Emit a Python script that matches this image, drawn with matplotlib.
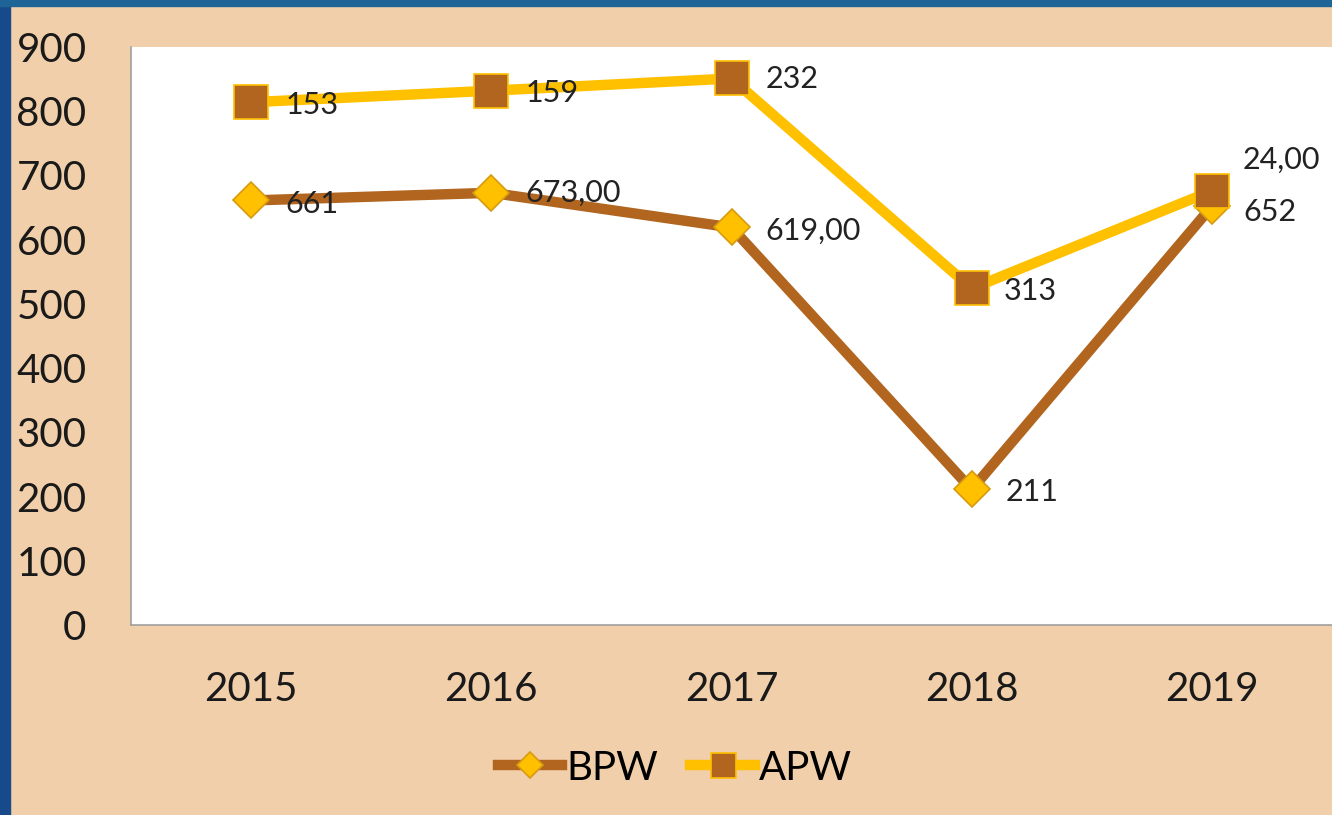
import matplotlib
matplotlib.use("Agg")
import matplotlib.pyplot as plt
import numpy as np

years = ['2015', '2016', '2017', '2018', '2019']
bpw = [661, 673, 619, 211, 652]
apw = [153, 159, 232, 313, 24]
bpw_labels = ['661', '673,00', '619,00', '211', '652']
apw_labels = ['153', '159', '232', '313', '24,00']

BROWN = '#B1651F'
YELLOW = '#FFC000'
TAN = '#F1CFAA'
PX = 0.72  # points per pixel at dpi 100

plt.rcParams['font.family'] = ['Lato', 'DejaVu Sans']

fig = plt.figure(figsize=(13.32, 8.15), dpi=100)
fig.patch.set_facecolor(TAN)

# blue frame on the left and top
fig.patches.append(plt.Rectangle((0, 0), 10 / 1332, 1, transform=fig.transFigure,
                                 color='#174A8B', zorder=0))
fig.patches.append(plt.Rectangle((0, 1 - 6 / 815), 1, 6 / 815, transform=fig.transFigure,
                                 color='#1F6496', zorder=0))

ax = fig.add_axes([131 / 1332, (815 - 625) / 815, (1332 - 131) / 1332, (625 - 47) / 815])
ax.set_facecolor('white')

x = np.arange(len(years))
apw_top = np.array(bpw) + np.array(apw)  # stacked line

ax.plot(x, bpw, color=BROWN, lw=7.5, marker='D', markersize=18,
        markerfacecolor=YELLOW, markeredgecolor='#D89A10', markeredgewidth=1.2,
        label='BPW', zorder=3)
ax.plot(x, apw_top, color=YELLOW, lw=7.5, marker='s', markersize=24,
        markerfacecolor=BROWN, markeredgecolor=YELLOW, markeredgewidth=1.2,
        label='APW', zorder=4)

# label offsets in pixels (dx right, dy up)
bpw_off = [(34, -4), (34, 0), (34, -3), (34, -3), (31, -6)]
apw_off = [(34, -3), (34, -2), (34, -1), (32, -3), (31, 31)]
for i in range(len(years)):
    dx, dy = bpw_off[i]
    ax.annotate(bpw_labels[i], (x[i], bpw[i]), xytext=(dx * PX, dy * PX),
                textcoords='offset points', ha='left', va='center',
                fontsize=22, color='#222222', zorder=5)
    dx, dy = apw_off[i]
    ax.annotate(apw_labels[i], (x[i], apw_top[i]), xytext=(dx * PX, dy * PX),
                textcoords='offset points', ha='left', va='center',
                fontsize=22, color='#222222', zorder=5)

ax.set_xlim(-0.5, len(years) - 0.5)
ax.set_ylim(0, 900)
ax.set_xticks(x)
ax.set_xticklabels(years)
ax.set_yticks(range(0, 901, 100))
ax.tick_params(axis='y', length=0, pad=32, labelsize=29, labelcolor='#1a1a1a')
ax.tick_params(axis='x', length=0, pad=33, labelsize=29, labelcolor='#1a1a1a')

for side in ['top', 'right']:
    ax.spines[side].set_visible(False)
ax.spines['left'].set_color('#A0A0A0')
ax.spines['bottom'].set_color('#A0A0A0')
ax.spines['left'].set_linewidth(1.2)
ax.spines['bottom'].set_linewidth(1.2)

fig.legend(loc='center', bbox_to_anchor=(675 / 1332, 1 - 768 / 815), ncol=2,
           frameon=False, fontsize=29, handlelength=1.6, handletextpad=0.1,
           columnspacing=0.8, markerscale=0.75)

fig.savefig('out.png', dpi=100, facecolor=fig.get_facecolor())
